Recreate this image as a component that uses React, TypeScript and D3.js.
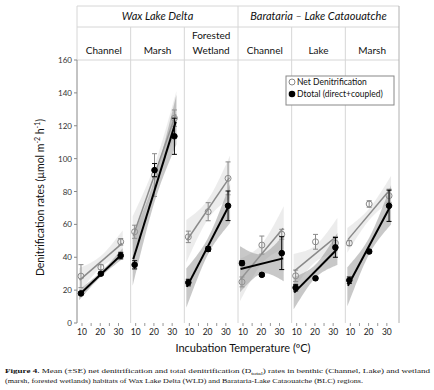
import React from "react";
import * as d3 from "d3";

const regions = ["Wax Lake Delta", "Barataria – Lake Cataouatche"];
const panelLabels = [["Channel"], ["Marsh"], ["Forested", "Wetland"], ["Channel"], ["Lake"], ["Marsh"]];
const temps = [10, 20, 30];
const xTicks = [10, 20, 30];
const yTicks = [0, 20, 40, 60, 80, 100, 120, 140, 160];

const netMeans = [
  [28.5, 34, 49.4],
  [55.5, 90, 124.6],
  [52.4, 67.7, 88],
  [25, 47.4, 54],
  [28.7, 49.4, 48.6],
  [48.6, 72.4, 77.4],
];
const netSE = [
  [7, 1.5, 2],
  [4, 13, 5],
  [3.5, 5.5, 10],
  [3, 5.5, 3],
  [3.5, 4.5, 4],
  [1.5, 2, 4],
];
const dtotMeans = [
  [18, 30, 41],
  [35.4, 93, 113.6],
  [24.6, 45, 71.3],
  [36.4, 29.3, 42.5],
  [21.5, 27.2, 46],
  [26, 43.5, 71.3],
];
const dtotSE = [
  [1, 1, 2],
  [2.5, 4, 11],
  [2, 1.5, 9],
  [1.5, 1, 10],
  [2, 1, 6],
  [2, 1, 9.5],
];
// confidence band half-widths (center at 20 °C, at ends 10/30 °C)
const netBandCenter = [3.5, 6, 6, 6, 5, 3.5];
const netBandEnd = [7, 12, 12, 12, 10, 7];
const dtotBandCenter = [1.5, 7, 5, 6, 4, 5];
const dtotBandEnd = [3, 14, 11, 13, 9, 11];

const W = 434, H = 390;
const left = 77, right = 399;
const top = 6, hdr1 = 27, hdr2 = 60, bottom = 323;
const nP = 6;
const pw = (right - left) / nP;
const FONT = "Lato, 'Open Sans', sans-serif";

const y = d3.scaleLinear().domain([0, 160]).range([bottom, hdr2]);

function fit(xs: number[], ys: number[]) {
  const mx = d3.mean(xs)!, my = d3.mean(ys)!;
  let sxy = 0, sxx = 0;
  xs.forEach((x, i) => { sxy += (x - mx) * (ys[i] - my); sxx += (x - mx) ** 2; });
  const b = sxy / sxx;
  return (x: number) => my + b * (x - mx);
}

function Series({ x, means, se, bc, be, color, fill, fillOp, filled, lw }: any) {
  const f = fit(temps, means);
  const hw = (t: number) => Math.sqrt(bc * bc + (be * be - bc * bc) * ((t - 20) / 10) ** 2);
  const ts = d3.range(9, 31.01, 0.5);
  const area = d3.area<number>().x((t) => x(t)).y0((t) => y(f(t) - hw(t))).y1((t) => y(f(t) + hw(t)));
  const line = d3.line<number>().x((t) => x(t)).y((t) => y(f(t)));
  return (
    <g>
      <path d={area(ts)!} fill={fill} fillOpacity={fillOp} />
      <path d={line([9.3, 30.7])!} stroke={color} strokeWidth={lw} fill="none" />
      {temps.map((t, k) => (
        <g key={k}>
          <line x1={x(t)} x2={x(t)} y1={y(means[k] - se[k])} y2={y(means[k] + se[k])} stroke={color} strokeWidth={1} />
          <line x1={x(t) - 2.5} x2={x(t) + 2.5} y1={y(means[k] - se[k])} y2={y(means[k] - se[k])} stroke={color} strokeWidth={1} />
          <line x1={x(t) - 2.5} x2={x(t) + 2.5} y1={y(means[k] + se[k])} y2={y(means[k] + se[k])} stroke={color} strokeWidth={1} />
          <circle cx={x(t)} cy={y(means[k])} r={filled ? 2.8 : 3} fill={filled ? "#000" : "none"} stroke={color} strokeWidth={1} />
        </g>
      ))}
    </g>
  );
}

export default function App() {
  const grid = "#d6d6d6";
  return (
    <svg width={W} height={H} style={{ position: "absolute", left: 0, top: 0, background: "#fff" }} fontFamily={FONT}>
      {/* header frame */}
      <line x1={left} x2={right} y1={top} y2={top} stroke={grid} />
      <line x1={left} x2={right} y1={hdr1} y2={hdr1} stroke={grid} />
      <line x1={left} x2={right} y1={hdr2} y2={hdr2} stroke={grid} />
      <line x1={left} x2={left} y1={top} y2={hdr2} stroke={grid} />
      <line x1={left + 3 * pw} x2={left + 3 * pw} y1={top} y2={bottom} stroke={grid} />
      <line x1={right} x2={right} y1={top} y2={bottom} stroke="#b0b0b0" />
      {[1, 2, 4, 5].map((k) => (
        <line key={k} x1={left + k * pw} x2={left + k * pw} y1={hdr1} y2={bottom} stroke={grid} />
      ))}
      {regions.map((r, k) => (
        <text key={r} x={left + (k * 3 + 1.5) * pw} y={20} textAnchor="middle" fontSize={11} fontStyle="italic" fill="#111">{r}</text>
      ))}
      {panelLabels.map((lab, k) => (
        <text key={k} x={left + (k + 0.5) * pw} y={lab.length > 1 ? 39 : 54} textAnchor="middle" fontSize={10} fill="#111">
          {lab.map((s, j) => (
            <tspan key={j} x={left + (k + 0.5) * pw} dy={j === 0 ? 0 : 15}>{s}</tspan>
          ))}
        </text>
      ))}
      {/* y axis */}
      <line x1={left} x2={left} y1={hdr2} y2={bottom} stroke="#888" />
      {yTicks.map((t) => (
        <g key={t}>
          <line x1={left - 3} x2={left} y1={y(t)} y2={y(t)} stroke="#888" />
          <text x={left - 5} y={y(t) + 3} textAnchor="end" fontSize={8} fill="#333">{t}</text>
        </g>
      ))}
      <text transform={`translate(44,${(hdr2 + bottom) / 2 + 6}) rotate(-90)`} textAnchor="middle" fontSize={10.5} fill="#111">
        Denitrification rates (µmol m<tspan dy={-4} fontSize={7}>-2</tspan><tspan dy={4}> h</tspan><tspan dy={-4} fontSize={7}>-1</tspan><tspan dy={4}>)</tspan>
      </text>
      {/* panels */}
      {panelLabels.map((_, i) => {
        const x = d3.scaleLinear().domain([8, 35]).range([left + i * pw, left + (i + 1) * pw]);
        const xl = d3.scaleLinear().domain([10, 30]).range([left + i * pw + 5, left + i * pw + 41.5]);
        return (
          <g key={i}>
            {[10, 15, 20, 25, 30].map((t) => (
              <line key={t} x1={xl(t)} x2={xl(t)} y1={bottom} y2={bottom + 3} stroke="#999" />
            ))}
            {xTicks.map((t) => (
              <text key={t} x={xl(t)} y={335} textAnchor="middle" fontSize={8.5} fill="#222">{t}</text>
            ))}
            <Series x={x} means={netMeans[i]} se={netSE[i]} bc={netBandCenter[i]} be={netBandEnd[i]}
              color="#8a8a8a" fill="#dadada" fillOp={0.5} filled={false} lw={1.5} />
            <Series x={x} means={dtotMeans[i]} se={dtotSE[i]} bc={dtotBandCenter[i]} be={dtotBandEnd[i]}
              color="#000" fill="#9a9a9a" fillOp={0.55} filled={true} lw={2} />
          </g>
        );
      })}
      <text x={243} y={352} textAnchor="middle" fontSize={11} fill="#111">Incubation Temperature (ºC)</text>
      {/* legend */}
      <rect x={286} y={76} width={108} height={29} fill="#fff" stroke="#888" />
      <circle cx={292} cy={82} r={3} fill="#fff" stroke="#888" />
      <text x={297} y={85} fontSize={8.5} fill="#111">Net Denitrification</text>
      <circle cx={292} cy={94} r={3.3} fill="#000" />
      <text x={297} y={97} fontSize={8.5} fill="#111">Dtotal (direct+coupled)</text>
      {/* caption */}
      <g fontFamily="'Liberation Serif', serif" fontSize={7} fill="#111">
        <text x={5} y={373} textLength={425} lengthAdjust="spacingAndGlyphs">
          <tspan fontWeight="bold">Figure 4.</tspan>  Mean (±SE) net denitrification and total denitrification (D<tspan fontSize={5} dy={1.5}>total</tspan><tspan dy={-1.5}>) rates in benthic (Channel, Lake) and wetland</tspan>
        </text>
        <text x={5} y={383} textLength={358} lengthAdjust="spacingAndGlyphs">
          (marsh, forested wetlands) habitats of Wax Lake Delta (WLD) and Barataria-Lake Cataouatche (BLC) regions.
        </text>
      </g>
    </svg>
  );
}
